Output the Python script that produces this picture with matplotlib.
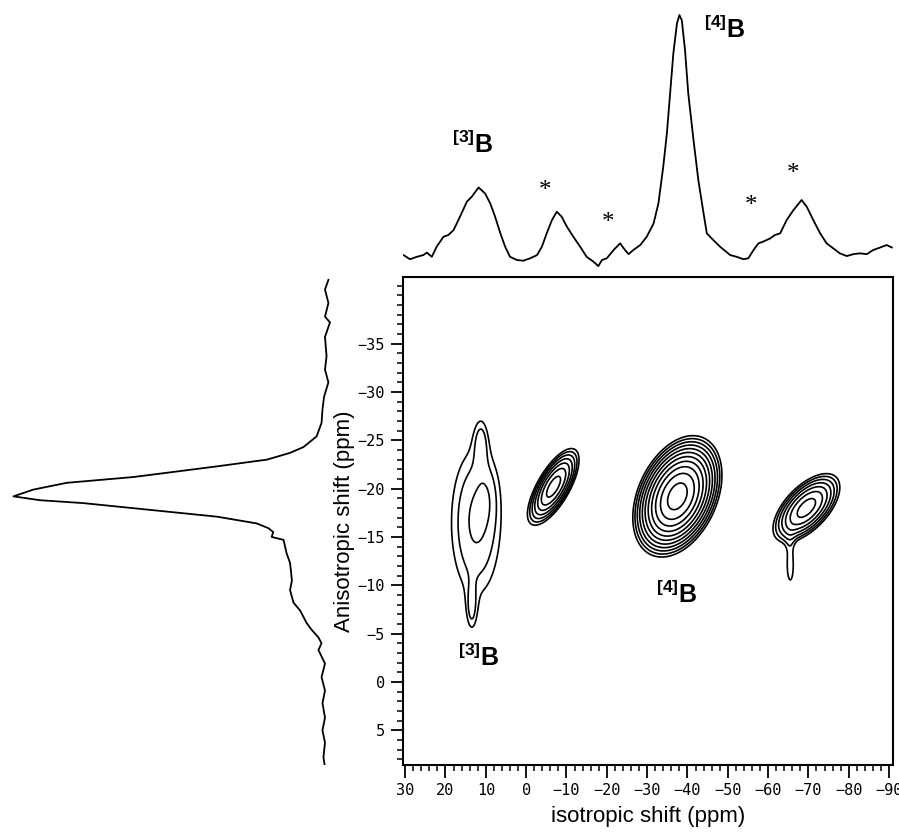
import numpy as np
import matplotlib
matplotlib.use("Agg")
import matplotlib.pyplot as plt

plt.rcParams['mathtext.fontset'] = 'custom'
plt.rcParams['mathtext.rm'] = 'Liberation Sans'
plt.rcParams['mathtext.bf'] = 'Liberation Sans:bold'

# top projection (isotropic dimension), ppm vs normalised intensity
top_ppm = [30.4, 28.8, 27.1, 25.5, 24.6, 23.4, 22.2, 20.5, 19.3, 18.0,
           16.4, 14.7, 13.5, 11.8, 10.2, 8.9, 7.7, 6.4, 5.2, 4.0,
           2.3, 0.7, -1.0, -2.7, -3.9, -5.1, -6.4, -7.6, -8.8, -10.1,
           -11.7, -13.4, -15.0, -16.7, -17.9, -18.8, -20.0, -21.7, -23.3, -24.5,
           -25.4, -26.6, -28.3, -29.9, -31.6, -32.8, -34.0, -34.9, -35.7, -36.5,
           -37.4, -38.0, -38.6, -39.4, -40.2, -41.5, -42.7, -44.0, -44.8, -46.0,
           -48.1, -50.6, -52.2, -53.9, -55.1, -56.4, -57.6, -58.8, -60.5, -61.7,
           -63.0, -64.6, -66.3, -68.3, -69.6, -71.2, -72.9, -74.5, -76.2, -77.8,
           -79.5, -81.2, -82.8, -84.5, -86.1, -87.8, -89.4, -90.7]
top_int = [0.020, 0.003, 0.013, 0.020, 0.030, 0.013, 0.054, 0.095, 0.102, 0.122,
           0.177, 0.238, 0.258, 0.296, 0.272, 0.231, 0.177, 0.109, 0.054, 0.013,
           0.000, -0.003, 0.007, 0.020, 0.054, 0.109, 0.163, 0.197, 0.177, 0.136,
           0.095, 0.054, 0.013, -0.007, -0.025, 0.000, 0.007, 0.041, 0.068, 0.041,
           0.024, 0.041, 0.061, 0.095, 0.149, 0.231, 0.381, 0.517, 0.680, 0.843,
           0.966, 1.000, 0.979, 0.857, 0.680, 0.490, 0.326, 0.190, 0.109, 0.088,
           0.054, 0.020, 0.013, 0.003, 0.007, 0.041, 0.068, 0.075, 0.088, 0.102,
           0.109, 0.163, 0.204, 0.245, 0.217, 0.163, 0.109, 0.068, 0.047, 0.027,
           0.016, 0.024, 0.027, 0.024, 0.041, 0.051, 0.061, 0.051]

# left projection (anisotropic dimension)
left_ppm = [-41.6, -40.6, -39.2, -37.8, -37.2, -35.7, -33.7, -32.3, -31.0, -29.5,
            -28.2, -26.8, -25.4, -24.3, -23.7, -23.0, -22.3, -21.2, -20.6, -19.9,
            -19.2, -18.8, -18.5, -17.8, -17.1, -16.4, -15.9, -15.5, -15.0, -14.7,
            -13.3, -12.3, -10.5, -9.5, -8.2, -7.4, -6.1, -5.4, -4.6, -4.0,
            -3.3, -1.9, -0.5, 0.9, 2.2, 3.7, 5.0, 6.3, 7.8, 8.8]
left_int = [-0.011, 0.0, -0.011, 0.0, -0.016, 0.0, -0.005, 0.0, -0.011, 0.003,
            0.008, 0.011, 0.027, 0.069, 0.112, 0.186, 0.347, 0.614, 0.828, 0.935,
            0.999, 0.914, 0.775, 0.561, 0.347, 0.219, 0.181, 0.166, 0.171, 0.133,
            0.123, 0.112, 0.106, 0.112, 0.101, 0.080, 0.059, 0.043, 0.021, 0.011,
            0.021, 0.0, 0.011, 0.0, 0.008, 0.0, 0.008, 0.0, 0.005, 0.0]

# 2D peaks: [3]B main + lobes, sideband, [4]B, sideband + tail
peak_iso = [12.5, 11.2, 13.5, 9.5, -6.8, -37.5, -69.5, -65.5]
peak_aniso = [-16.5, -25.0, -7.5, -19.5, -20.2, -19.2, -18.0, -12.0]
peak_wiso = [5.3, 1.3, 1.0, 2.0, 3.2, 4.4, 4.2, 1.0]
peak_waniso = [6.5, 1.8, 1.8, 2.5, 2.0, 2.5, 1.8, 2.0]
peak_tilt = [0.0, 0.0, 0.0, 0.0, 0.7, 0.35, 0.6, 0.0]
peak_amp = [1.9, 0.9, 0.9, 0.4, 7.0, 23.4, 7.0, 1.3]
level_step = 1.35
n_levels = 11

x_ticks = [30, 20, 10, 0, -10, -20, -30, -40, -50, -60, -70, -80, -90]
y_ticks = [-35, -30, -25, -20, -15, -10, -5, 0, 5]
xlim = (30.6, -90.9)
ylim = (8.6, -41.9)


def spectrum_2d(X, Y):
    Z = np.zeros_like(X)
    for x0, y0, sx, sy, r, a in zip(peak_iso, peak_aniso, peak_wiso,
                                    peak_waniso, peak_tilt, peak_amp):
        dx = (X - x0) / sx
        dy = (Y - y0) / sy
        q = (dx**2 - 2 * r * dx * dy + dy**2) / (1 - r**2)
        Z += a * np.exp(-q / 2)
    return Z


fig = plt.figure(figsize=(8.99, 8.36), dpi=100)

ax = fig.add_axes([0.448, 0.0849, 0.545, 0.5838])
ax_top = fig.add_axes([0.448, 0.677, 0.545, 0.317])
ax_left = fig.add_axes([0.0056, 0.0849, 0.367, 0.5838])

# main contour plot
xg = np.linspace(-92, 32, 700)
yg = np.linspace(-43, 10, 500)
X, Y = np.meshgrid(xg, yg)
Z = spectrum_2d(X, Y)
levels = level_step ** np.arange(n_levels)
ax.contour(X, Y, Z, levels=levels, colors='black', linewidths=1.2)

ax.set_xlim(*xlim)
ax.set_ylim(*ylim)
ax.set_xticks(x_ticks)
ax.set_yticks(y_ticks)
ax.set_xticks(np.arange(-90, 31, 2), minor=True)
ax.set_yticks(np.arange(-41, 9, 1), minor=True)
ax.tick_params(which='major', direction='out', length=9, width=1.3, pad=4,
               labelsize=11)
ax.tick_params(which='minor', direction='out', length=4.5, width=1.1)
for lab in ax.get_xticklabels() + ax.get_yticklabels():
    lab.set_family('DejaVu Sans Mono')
for sp in ax.spines.values():
    sp.set_linewidth(1.5)
ax.set_xlabel('isotropic shift (ppm)', fontsize=16, family='Liberation Sans',
              labelpad=6)
ax.set_ylabel('Anisotropic shift (ppm)', fontsize=16, family='Liberation Sans',
              labelpad=2)

lab_kw = dict(fontsize=18, ha='center', va='center')
ax.text(11.9, -2.5, r'$^{\mathbf{[3]}}\mathbf{B}$', **lab_kw)
ax.text(-37.4, -9.1, r'$^{\mathbf{[4]}}\mathbf{B}$', **lab_kw)

# top projection
ax_top.plot(top_ppm, top_int, color='black', lw=1.3)
ax_top.set_xlim(*xlim)
ax_top.set_ylim(-0.041, 1.041)
ax_top.axis('off')
ax_top.text(13.4, 0.47, r'$^{\mathbf{[3]}}\mathbf{B}$', **lab_kw)
ax_top.text(-49.3, 0.94, r'$^{\mathbf{[4]}}\mathbf{B}$', **lab_kw)
for xs, ys in [(-4.7, 0.28), (-20.3, 0.15), (-55.8, 0.22), (-66.2, 0.35)]:
    ax_top.text(xs, ys, '*', fontsize=18, family='Liberation Serif',
                ha='center', va='center')

# left projection
ax_left.plot(left_int, left_ppm, color='black', lw=1.3)
ax_left.set_ylim(*ylim)
ax_left.set_xlim(1.026, -0.032)
ax_left.axis('off')

fig.savefig('out.png', dpi=100)
